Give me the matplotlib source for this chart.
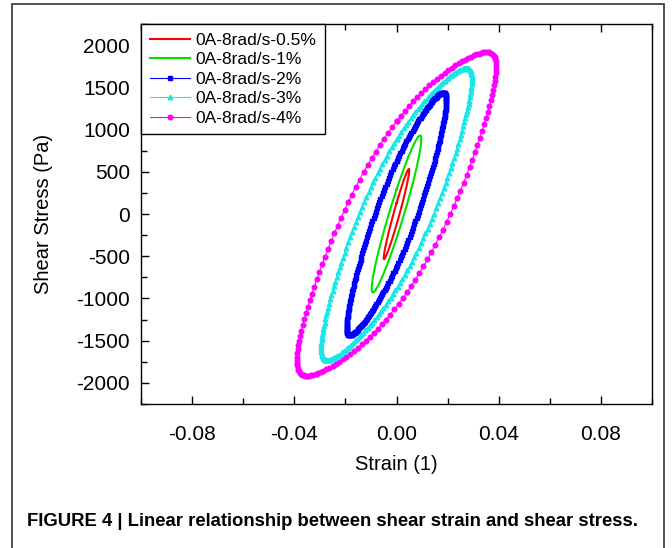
import numpy as np
import matplotlib.pyplot as plt
from matplotlib.patches import Rectangle
from matplotlib.ticker import MultipleLocator

# loops: strain amplitude and Fourier stress terms (Pa)
labels = ["0A-8rad/s-0.5%", "0A-8rad/s-1%", "0A-8rad/s-2%", "0A-8rad/s-3%", "0A-8rad/s-4%"]
strain_amp = [0.005, 0.0097, 0.0195, 0.0295, 0.039]
stress_in = [519, 884, 1321, 1552, 1687]       # in phase with strain
stress_out = [128, 288, 602, 838, 1032]        # out of phase (at zero strain)
stress_3in = [0, 0, -25, -40, -51]             # third harmonic, sin
stress_3out = [0, 0, 25, 45, 65]               # third harmonic, cos
n_points = [200, 200, 250, 200, 150]

colors = ["#ff0000", "#00e000", "#0000ff", "#19e6e6", "#ff00ff"]
markers = [None, None, "s", "^", "o"]

plt.rcParams['font.family'] = ['Liberation Sans', 'DejaVu Sans']

fig = plt.figure(figsize=(6.72, 5.48), dpi=100)
ax = fig.add_axes([141 / 672, 1 - 404 / 548, (652 - 141) / 672, (404 - 24) / 548])

for i in reversed(range(len(labels))):
    t = np.linspace(0, 2 * np.pi, n_points[i])
    strain = strain_amp[i] * np.sin(t)
    stress = (stress_in[i] * np.sin(t) + stress_out[i] * np.cos(t)
              + stress_3in[i] * np.sin(3 * t) + stress_3out[i] * np.cos(3 * t))
    ax.plot(strain, stress, color=colors[i], marker=markers[i], markersize=3.3,
            linewidth=1.5 if markers[i] is None else 0.8, label=labels[i], zorder=10 - i)

ax.set_xlim(-0.1, 0.1)
ax.set_ylim(-2250, 2250)
ax.xaxis.set_minor_locator(MultipleLocator(0.02))
ax.yaxis.set_minor_locator(MultipleLocator(250))
ax.set_xticks([-0.08, -0.04, 0.0, 0.04, 0.08])
ax.set_xticklabels(["-0.08", "-0.04", "0.00", "0.04", "0.08"])
ax.set_yticks(range(-2000, 2001, 500))
ax.set_yticklabels([str(v) for v in range(-2000, 2001, 500)])
ax.tick_params(which='both', direction='in', top=True, right=False, labelsize=15, width=1.0)
ax.tick_params(axis='x', pad=15)
ax.tick_params(axis='y', pad=8)
ax.tick_params(which='major', length=6)
ax.tick_params(which='minor', length=4)
for sp in ax.spines.values():
    sp.set_linewidth(1.0)

ax.set_xlabel("Strain (1)", fontsize=14.5, labelpad=8)
ax.set_ylabel("Shear Stress (Pa)", fontsize=14.5, labelpad=17)

handles, labs = ax.get_legend_handles_labels()
leg = ax.legend(handles[::-1], labs[::-1], loc='upper left', bbox_to_anchor=(0, 1), borderaxespad=0,
                fontsize=12.5, fancybox=False, edgecolor='black', framealpha=1,
                handlelength=2.3, handletextpad=0.35, labelspacing=0.25, borderpad=0.5)
leg.get_frame().set_linewidth(1.0)
leg.set_zorder(20)

# outer frame of the figure panel
fig.patches.append(Rectangle((12 / 672, -0.02), (664 - 12) / 672, 1 - 4 / 548 + 0.02,
                             transform=fig.transFigure, fill=False, edgecolor='#333333', linewidth=1.2))

fig.text(27 / 672, 1 - 521 / 548, "FIGURE 4 | Linear relationship between shear strain and shear stress.",
         fontsize=13.3, fontweight='bold', va='center', ha='left')

fig.savefig("out.png", dpi=100)
